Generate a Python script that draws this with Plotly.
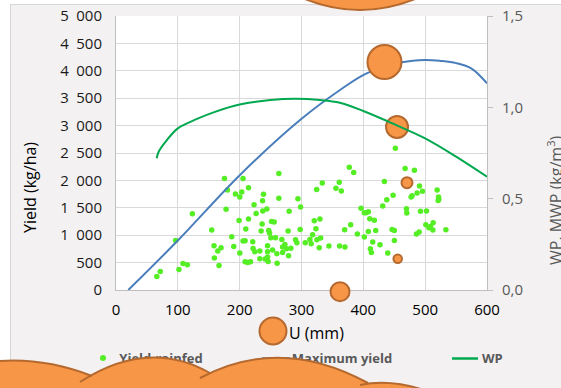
import plotly.graph_objects as go

# ---------------- data ----------------
rain_x = [66, 71.6, 96.4, 101.8, 108.3, 115.4, 123.5, 154.8, 158.5, 159.1, 164.5, 166.6, 169.9,
          175.4, 180.2, 178, 187.2, 190.4, 193.2, 199, 200.2, 200.2, 203.4, 205.5, 205.5, 208.8,
          208.8, 209.9, 213.1, 214.3, 214.3, 217.5, 221.2, 221.7, 223.3, 224.5, 226.6, 232.6,
          232.6, 234.7, 236.3, 237, 237.4, 238.6, 241.2, 243.9, 245.1, 245.1, 245.1, 246, 247,
          248.3, 250.4, 251.5, 253.2, 255.8, 258, 260.1, 260.6, 263.4, 263.4, 268.2, 269.4,
          269.4, 273.1, 275.8, 278.4, 279.1, 280, 282.8, 290.4, 292.5, 294.2, 297.9, 298.5,
          306, 313.6, 315.7, 318, 320.6, 323.3, 324.5, 324.9, 328.7, 329.8, 331,
          333.6, 344.4, 355.7, 361.1, 364.4, 361.7, 370.3, 369.8, 377.3, 384.4, 379.5, 390.3,
          396.3, 401.6, 401.6, 404.4, 408.1, 408.1, 410.4, 415.2, 411.3, 413, 417.8, 420, 427,
          431.4, 434, 437.9, 439.5, 446.5, 450.2, 450.2, 448.1, 451.8, 467.6, 482.6, 469.7,
          470.3, 477.3, 478.9, 485.9, 490.3, 487, 490.8, 495.6, 492.4, 502.1, 501.1, 506,
          508.6, 512.5, 512.9, 519.4, 521.6, 522.1, 521, 533.5]
rain_y = [247, 338, 905, 375, 484, 460, 1393, 1094, 808, 582, 710, 448, 771,
          2033, 1825, 1472, 972, 795, 1751, 1270, 1697, 673, 1788, 2033, 892, 899,
          515, 1112, 503, 1295, 1868, 515, 880, 759, 1557, 698, 1398, 710,
          570, 1076, 1203, 1630, 1441, 1746, 564, 1478, 808, 698, 600, 521, 1088,
          1039, 954, 1252, 728, 1240, 954, 662, 490, 2124, 1673, 923, 783,
          686, 832, 753, 1076, 625, 1435, 764, 918, 863, 1667, 1106, 1514,
          863, 923, 845, 1009, 1265, 1119, 1832, 918, 771, 1295, 947,
          1953, 801, 1856, 1965, 1806, 801, 783, 1100, 2240, 2142, 1192, 1020,
          1490, 965, 1411, 1411, 1429, 1069, 1301, 874, 753, 686, 1271, 1088, 826,
          1532, 1978, 1649, 673, 1106, 1088, 905, 1728, 2587, 2216, 2185, 1484,
          1404, 1697, 1722, 1020, 1057, 1770, 1898, 1801, 1435, 1441, 1192, 1137,
          1161, 1094, 1228, 1825, 1697, 1660, 1631, 1100]

maxy_x = [19.9, 100.8, 200.5, 297.6, 362.3, 405.4, 462.5, 499.7, 525, 550, 575, 600]
maxy_y = [0, 912, 2099, 3102, 3650, 3954, 4155, 4197, 4180, 4140, 4040, 3772]

wp_x = [65.8, 69, 81, 100, 130, 160, 200, 250, 290, 330, 362, 400, 455, 500, 550, 600]
wp_y = [0.721, 0.757, 0.815, 0.885, 0.935, 0.975, 1.015, 1.04, 1.047, 1.04, 1.025, 0.98,
        0.90, 0.83, 0.73, 0.62]

bub_x = [434.2, 454.5, 470.6, 455.6, 362.3, 253.9]
bub_y = [4161, 2975, 1958, 571, -31, -748]
bub_d = [36, 24, 13, 10.5, 21, 29]

x_ticks = [0, 100, 200, 300, 400, 500, 600]
x_labels = ["0", "100", "200", "300", "400", "500", "600"]
y_ticks = [0, 500, 1000, 1500, 2000, 2500, 3000, 3500, 4000, 4500, 5000]
y_labels = ["0", "500", "1\u2002000", "1\u2002500", "2\u2002000", "2\u2002500", "3\u2002000",
            "3\u2002500", "4\u2002000", "4\u2002500", "5\u2002000"]
y2_ticks = [0, 0.5, 1.0, 1.5]
y2_labels = ["0,0", "0,5", "1,0", "1,5"]

legend_names = ["Yield-rainfed", "Maximum yield", "WP"]

# ---------------- layout geometry (pixels) ----------------
WIDTH, HEIGHT = 561, 388
L, R, T, B = 116, 74, 16, 98
W = WIDTH - L - R
H = HEIGHT - T - B
XR = (0, 600)
YR = (0, 5000)
FONT = "Open Sans"


def px_x(px):
    return (px - L) / W


def px_y(py):
    return (T + H - py) / H


def data_px(xv, yv):
    return (L + (xv - XR[0]) / (XR[1] - XR[0]) * W,
            T + H - (yv - YR[0]) / (YR[1] - YR[0]) * H)


def dx(px):
    return XR[0] + px_x(px) * (XR[1] - XR[0])


fig = go.Figure()

fig.add_trace(go.Scatter(x=rain_x, y=rain_y, mode="markers", name=legend_names[0],
                         marker=dict(size=5.5, color="#55EE25", opacity=1), showlegend=False))
fig.add_trace(go.Scatter(x=maxy_x, y=maxy_y, mode="lines", name=legend_names[1],
                         line=dict(color="#4A7EBB", width=2, shape="spline"), showlegend=False))
fig.add_trace(go.Scatter(x=wp_x, y=wp_y, mode="lines", name=legend_names[2], yaxis="y2",
                         line=dict(color="#00A850", width=2, shape="spline"), showlegend=False))

ORANGE = "#F79646"
EDGE = "#B5692E"
inside = [i for i in range(len(bub_x)) if YR[0] <= bub_y[i] <= YR[1]]
outside = [i for i in range(len(bub_x)) if i not in inside]
fig.add_trace(go.Scatter(x=[bub_x[i] for i in inside], y=[bub_y[i] for i in inside],
                         mode="markers", showlegend=False, cliponaxis=False,
                         marker=dict(size=[bub_d[i] - 2 for i in inside], color=ORANGE,
                                     opacity=1, line=dict(color=EDGE, width=2))))
# empty trace so the legend-label axis exists
fig.add_trace(go.Scatter(x=[], y=[], xaxis="x2", showlegend=False))

shapes = []
# background frame
shapes.append(dict(type="rect", xref="paper", yref="paper", layer="below",
                   x0=px_x(-5), x1=px_x(10), y0=px_y(400), y1=px_y(-5),
                   fillcolor="white", line=dict(width=0)))
shapes.append(dict(type="rect", xref="paper", yref="paper", layer="below",
                   x0=px_x(-5), x1=px_x(600), y0=px_y(4), y1=px_y(-5),
                   fillcolor="white", line=dict(width=0)))
shapes.append(dict(type="line", xref="paper", yref="paper", layer="below",
                   x0=px_x(10.5), x1=px_x(10.5), y0=px_y(4), y1=px_y(400),
                   line=dict(color="#D6D6D6", width=1)))
shapes.append(dict(type="line", xref="paper", yref="paper", layer="below",
                   x0=px_x(10), x1=px_x(600), y0=px_y(4.5), y1=px_y(4.5),
                   line=dict(color="#D6D6D6", width=1)))
# legend symbols
shapes.append(dict(type="circle", xref="paper", yref="paper", layer="below",
                   x0=px_x(100), x1=px_x(106), y0=px_y(361), y1=px_y(355),
                   fillcolor="#55EE25", line=dict(width=0)))
shapes.append(dict(type="line", xref="paper", yref="paper", layer="below",
                   x0=px_x(262), x1=px_x(290), y0=px_y(358.5), y1=px_y(358.5),
                   line=dict(color="#4A7EBB", width=2.5)))
shapes.append(dict(type="line", xref="paper", yref="paper", layer="below",
                   x0=px_x(452), x1=px_x(478), y0=px_y(358.5), y1=px_y(358.5),
                   line=dict(color="#00A850", width=2.5)))

# bubbles that lie outside the axis ranges
for i in outside:
    cx, cy = data_px(bub_x[i], bub_y[i])
    r = bub_d[i] / 2 - 1
    shapes.append(dict(type="circle", xref="paper", yref="paper", layer="above",
                       x0=px_x(cx - r), x1=px_x(cx + r), y0=px_y(cy + r), y1=px_y(cy - r),
                       fillcolor=ORANGE, line=dict(color=EDGE, width=2)))


def P(x, y):
    return f"{px_x(x):.5f},{px_y(y):.5f}"


arcs = [(-10, 362, 40, 356, 92, 376),
        (80, 382, 148, 338, 210, 373),
        (200, 378, 280, 335, 368, 383),
        (360, 385, 395, 377, 440, 396)]
fill_path = " ".join(
    f"M {P(a, b)} Q {P(c, d)} {P(e, f)} L {P(e, 400)} L {P(a, 400)} Z" for a, b, c, d, e, f in arcs)
shapes.append(dict(type="path", xref="paper", yref="paper", layer="above", path=fill_path,
                   fillcolor=ORANGE, fillrule="nonzero", line=dict(width=0)))
for a, b, c, d, e, f in arcs:
    shapes.append(dict(type="path", xref="paper", yref="paper", layer="above",
                       path=f"M {P(a, b)} Q {P(c, d)} {P(e, f)}",
                       fillcolor="rgba(0,0,0,0)", line=dict(color=EDGE, width=2)))
# top cloud
top_fill = f"M {P(300,-3)} Q {P(360,23)} {P(420,-3)} Z"
shapes.append(dict(type="path", xref="paper", yref="paper", layer="above", path=top_fill,
                   fillcolor=ORANGE, line=dict(color=EDGE, width=2)))

annotations = [
    dict(text="U (mm)", xref="paper", yref="paper", x=px_x(287), y=px_y(333),
         xanchor="left", yanchor="middle", showarrow=False,
         font=dict(family=FONT, size=16, color="#000000")),
    dict(text="Yield (kg/ha)", xref="paper", yref="paper", x=px_x(30), y=px_y(188),
         xanchor="center", yanchor="middle", showarrow=False, textangle=-90,
         font=dict(family=FONT, size=16, color="#000000")),
    dict(text="WP, MWP (kg/m<sup>3</sup>)", xref="paper", yref="paper", x=px_x(555),
         y=px_y(200), xanchor="center", yanchor="middle", showarrow=False, textangle=-90,
         font=dict(family=FONT, size=16, color="#595959")),
    dict(text="<b>" + legend_names[2] + "</b>", xref="paper", yref="paper", x=px_x(480),
         y=px_y(358), xanchor="left", yanchor="middle", showarrow=False,
         font=dict(family=FONT, size=13, color="#595959")),
]

# legend labels drawn as tick labels of an overlaying axis (so the clouds cover them)
legend_centers = [dx(161), dx(342)]

fig.update_layout(
    width=WIDTH, height=HEIGHT, autosize=False,
    margin=dict(l=L, r=R, t=T, b=B, pad=0, autoexpand=False),
    paper_bgcolor="#F3F1F2", plot_bgcolor="white",
    showlegend=False,
    shapes=shapes, annotations=annotations,
    xaxis=dict(range=list(XR), tickvals=x_ticks, ticktext=x_labels, showgrid=True,
               gridcolor="#D9D9D9", gridwidth=1, zeroline=False, showline=True,
               linecolor="#BFBFBF", linewidth=1, ticks="", ticklabelstandoff=6,
               automargin=False,
               tickfont=dict(family=FONT, size=15, color="#000000")),
    xaxis2=dict(range=list(XR), overlaying="x", anchor="y", side="bottom",
                tickvals=legend_centers,
                ticktext=["<b>" + n + "</b>" for n in legend_names[:2]],
                showgrid=False, zeroline=False, showline=False, ticks="",
                ticklabelstandoff=59, automargin=False,
                tickfont=dict(family=FONT, size=13, color="#595959")),
    yaxis=dict(range=list(YR), tickvals=y_ticks, ticktext=y_labels, showgrid=True,
               gridcolor="#D9D9D9", gridwidth=1, zeroline=False, showline=True,
               linecolor="#BFBFBF", linewidth=1, ticks="", ticklabelstandoff=10,
               automargin=False,
               tickfont=dict(family=FONT, size=15, color="#1A1A1A")),
    yaxis2=dict(range=[0, 1.5], overlaying="y", side="right", tickvals=y2_ticks,
                ticktext=y2_labels, showgrid=False, zeroline=False, showline=True,
                linecolor="#BFBFBF", linewidth=1, ticks="outside", ticklen=5,
                tickcolor="#BFBFBF", ticklabelstandoff=6, automargin=False,
                tickfont=dict(family=FONT, size=15, color="#595959")),
)

fig.write_html("out.html", config={"displayModeBar": False},
               post_script="document.body.style.margin='0px';")
